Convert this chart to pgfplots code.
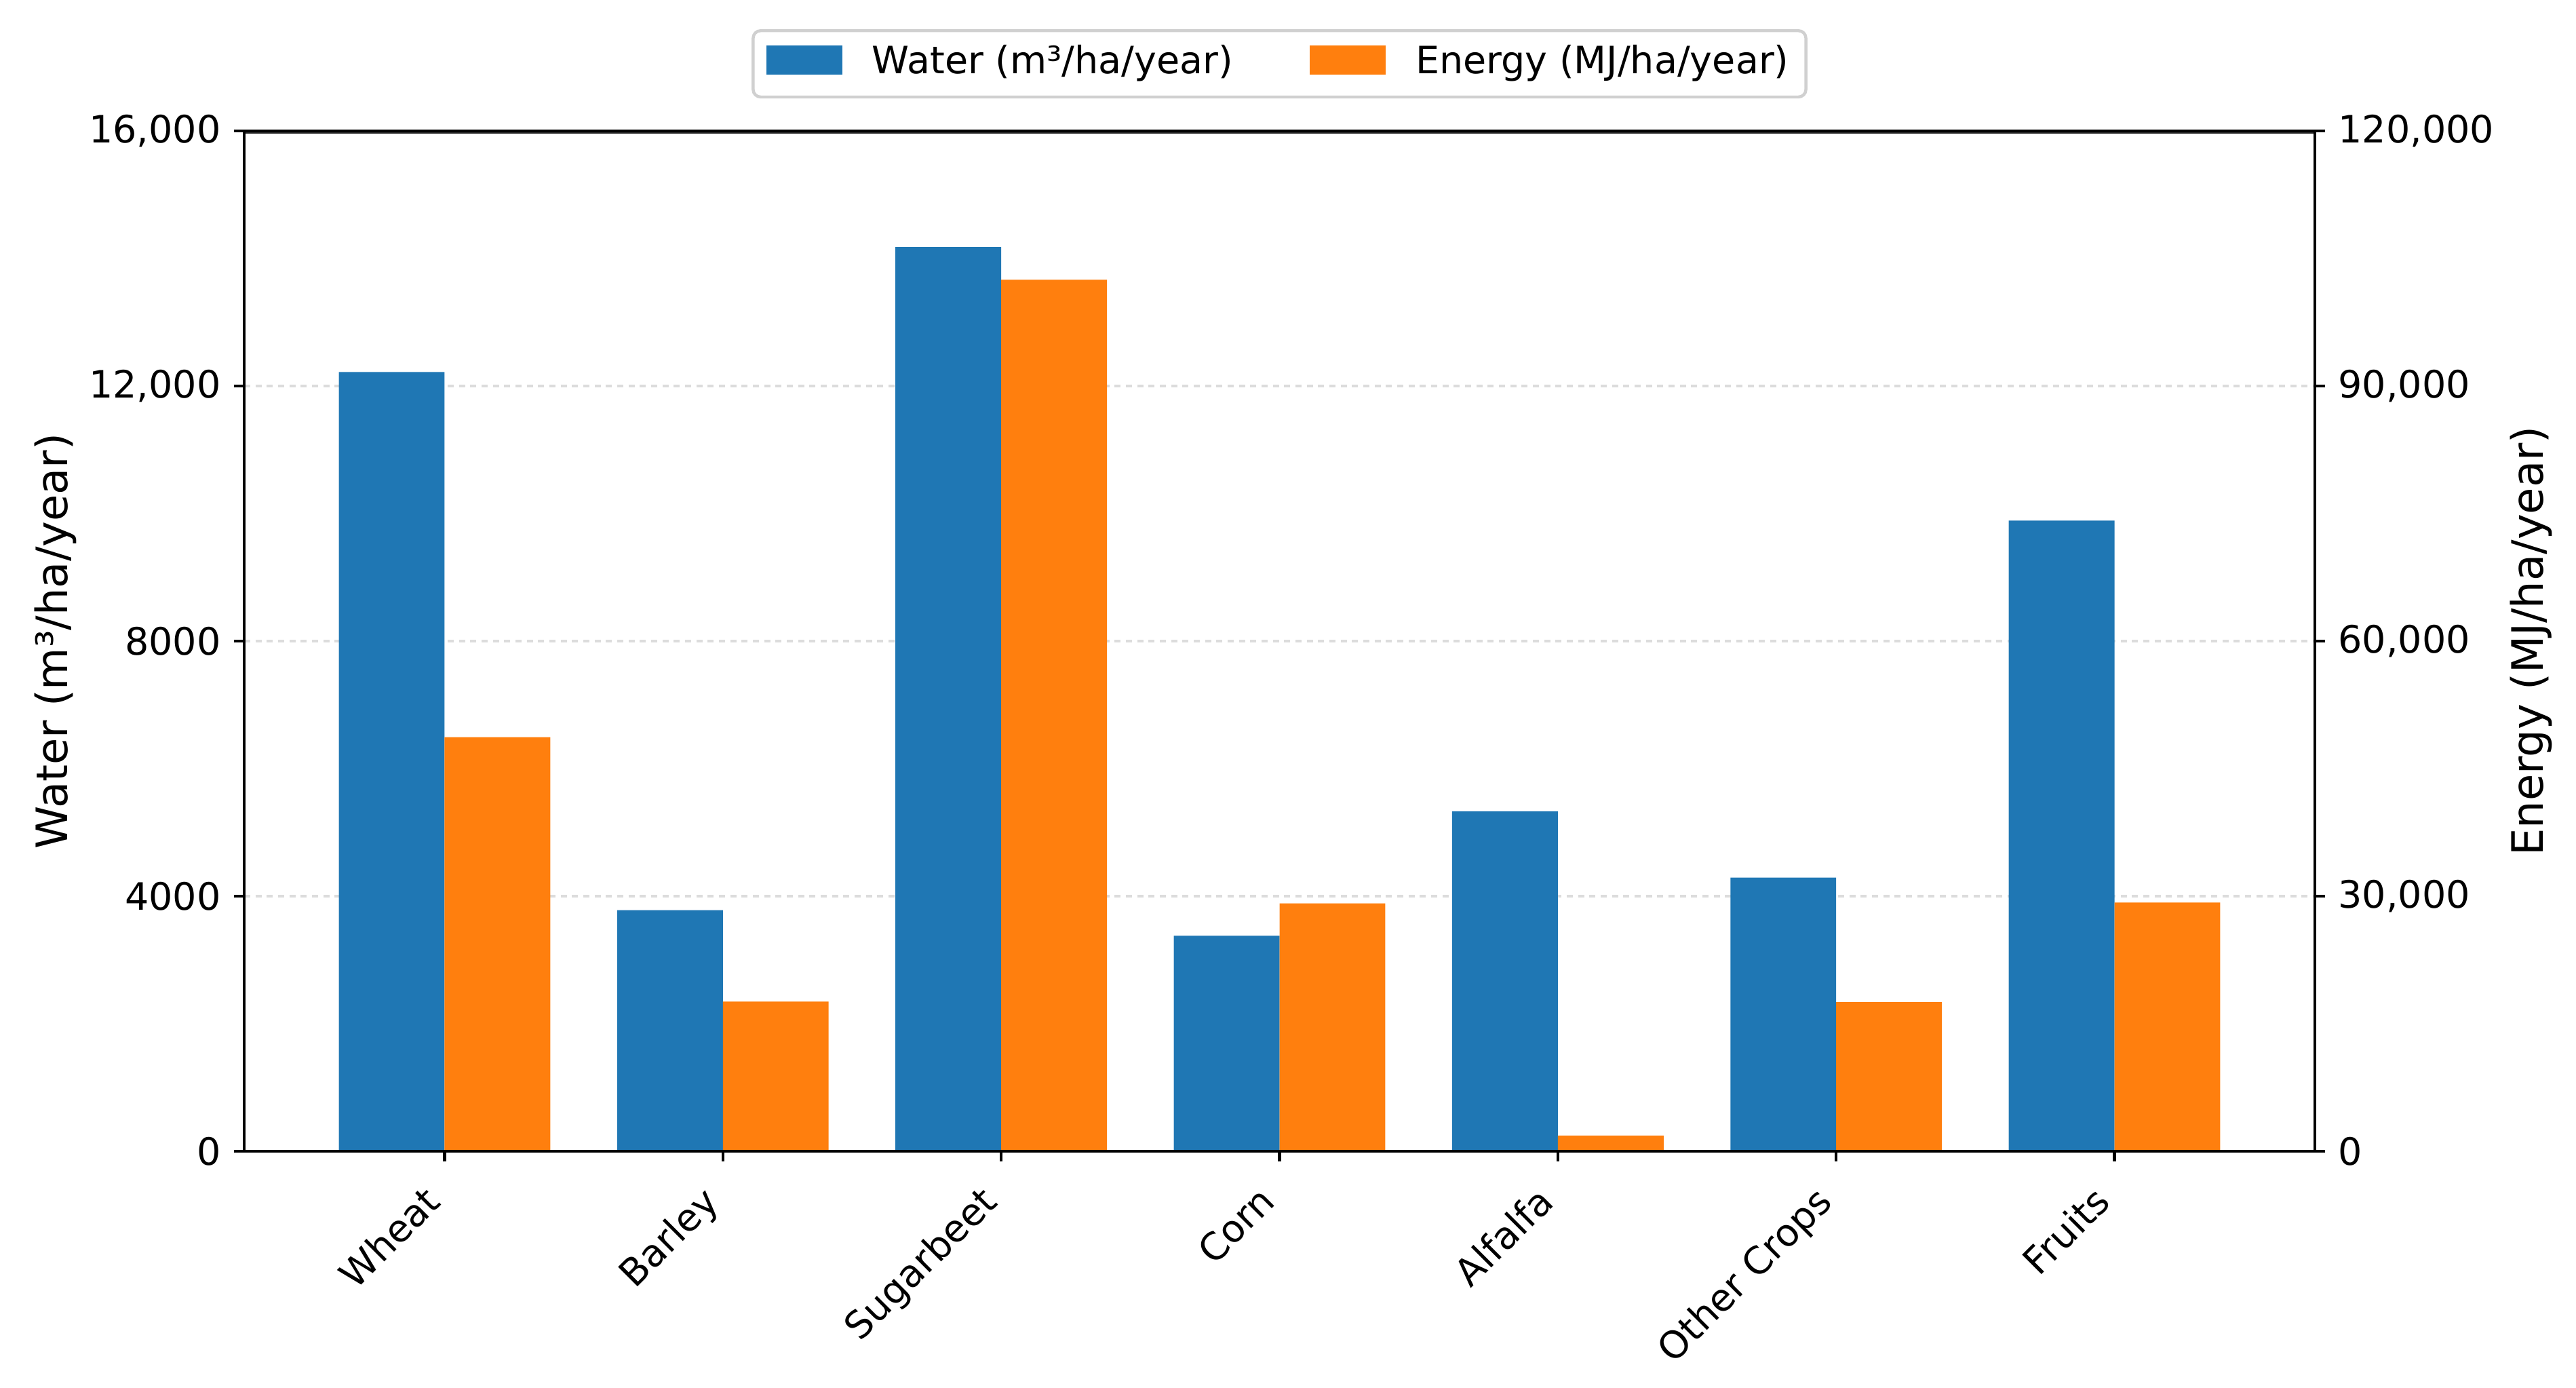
\documentclass[border=0pt]{standalone}
\usepackage{fontspec}
\setmainfont{DejaVu Sans}
\usepackage{pgfplots}
\pgfplotsset{compat=1.18}
\definecolor{mblue}{HTML}{1F77B4}
\definecolor{morange}{HTML}{FF7F0E}
\definecolor{gridc}{HTML}{DCDCDC}
\definecolor{legc}{HTML}{D0D0D0}
\begin{document}
\begin{tikzpicture}
\useasboundingbox (-64.8bp,-62.82bp) rectangle (618.84bp,305.46bp);
\pgfplotsset{
  common/.style={
    at={(0,0)}, anchor=south west,
    scale only axis, width=549.54bp, height=270.72bp,
    xmin=-0.72, xmax=6.72, ymin=0,
    ybar, bar width=0.38,
    scaled y ticks=false, scaled x ticks=false,
    tick align=outside, major tick length=2.7bp,
    tick style={black, line width=0.8bp},
    axis line style={black, line width=0.8bp},
    every tick label/.append style={font=\fontsize{10bp}{12bp}\selectfont, text=black},
    /pgf/number format/assume math mode=true,
    label style={font=\fontsize{11.5bp}{13bp}\selectfont, inner sep=0pt},
  }
}
\begin{axis}[common,
  ymax=16000,
  ytick={0,4000,8000,12000,16000},
  yticklabels={0,4000,8000,{12,000},{16,000}},
  ytick pos=left,
  xtick={0,1,2,3,4,5,6},
  xticklabels={Wheat,Barley,Sugarbeet,Corn,Alfalfa,Other Crops,Fruits},
  xtick pos=left,
  xticklabel style={xshift=-6bp, yshift=-1bp, rotate=45, anchor=north east},
  ymajorgrids,
  major grid style={gridc, line width=0.6bp, dash pattern=on 1.6bp off 1.4bp},
  ylabel={Water (m³/ha/year)},
  ylabel style={at={(axis description cs:-0.1015,0.5)}, anchor=north},
  legend columns=2,
  legend image code/.code={\fill[#1, sharp corners] (0bp,-2.85bp) rectangle (20.2bp,4.85bp); \path (27.1bp,0bp);},
  legend style={at={(0.5,1)}, anchor=south, yshift=8.6bp,
    draw=legc, line width=0.8bp, rounded corners=2bp, fill=white,
    inner xsep=3.5bp, inner ysep=2.3bp,
    font=\fontsize{10bp}{12bp}\selectfont,
    nodes={inner xsep=1bp, inner ysep=1.5bp, text height=7.6bp, text depth=2.4bp},
    /tikz/every even column/.append style={column sep=19.3bp}},
]
\addplot[fill=mblue, draw=none, bar shift=-0.19] coordinates {
  (0,12220) (1,3780) (2,14180) (3,3380) (4,5330) (5,4290) (6,9890)};
\addlegendentry{Water (m³/ha/year)}
\addlegendimage{fill=morange, draw=none}
\addlegendentry{Energy (MJ/ha/year)}
\end{axis}
\begin{axis}[common,
  axis on top,
  ymax=120000,
  ytick={0,30000,60000,90000,120000},
  yticklabels={0,{30,000},{60,000},{90,000},{120,000}},
  ytick pos=right, yticklabel pos=right,
  xtick=\empty,
  ylabel={Energy (MJ/ha/year)},
  ylabel style={at={(axis description cs:1.094,0.5)}, anchor=north},
]
\addplot[fill=morange, draw=none, bar shift=0.19] coordinates {
  (0,48700) (1,17600) (2,102500) (3,29150) (4,1850) (5,17550) (6,29250)};
\draw[line width=1.3bp, black!85] (rel axis cs:0,1) -- (rel axis cs:1,1);
\end{axis}
\end{tikzpicture}
\end{document}
